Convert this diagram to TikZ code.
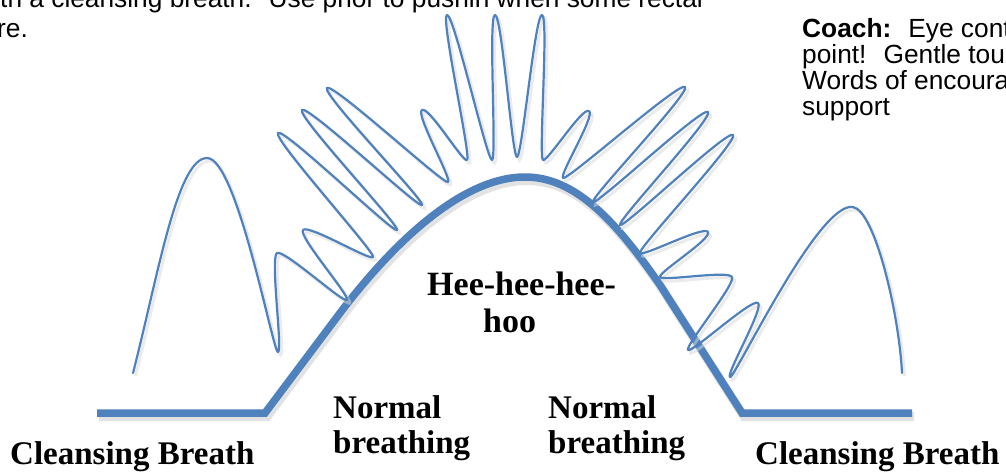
\documentclass[tikz,border=0pt]{standalone}
\usepackage{fontspec}
\setmainfont{Liberation Serif}
\newfontfamily\sansf{Liberation Sans}
\usetikzlibrary{calc}
\definecolor{bl}{RGB}{79,129,189}
% control points around a tip: prev, this, next, handle in, handle out
\newcommand\tipctl[5]{%
  \path let \p1=($(p#1)-(p#2)$), \p2=($(p#3)-(p#2)$),
    \n1={veclen(\x1,\y1)}, \n2={veclen(\x2,\y2)},
    \n3={(\x2)/(\n2)-(\x1)/(\n1)}, \n4={(\y2)/(\n2)-(\y1)/(\n1)},
    \n5={veclen(\n3,\n4)}, \n6={#4/(\n5)}, \n7={#5/(\n5)} in
    coordinate (p#2-a) at ($(p#2)-({\n6*\n3},{\n6*\n4})$)
    coordinate (p#2-b) at ($(p#2)+({\n7*\n3},{\n7*\n4})$);}
\begin{document}
\begin{tikzpicture}[x=1pt,y=-1pt,
  thickline/.style={draw=bl, line width=7.5pt, line join=miter,
    preaction={draw=black!25, line width=9pt, opacity=0.45,
      transform canvas={shift={(2pt,-3.5pt)}}}},
  wig/.style={draw=bl, line width=2.2pt, line cap=round, line join=round,
    preaction={draw=black!15, line width=3pt, opacity=0.5,
      transform canvas={shift={(2.5pt,-3pt)}}}},
  lab/.style={font=\fontsize{33}{36}\selectfont\bfseries, anchor=base west, inner sep=0pt},
  txt/.style={font=\sansf\fontsize{26.3}{28}\selectfont, anchor=base west, inner sep=0pt}]
\path[use as bounding box, fill=white] (0,0) rectangle (1006,472);

% thick curve
\coordinate (a1) at (97,413);
\coordinate (a2) at (265,413);
\coordinate (a3) at (340,313);
\coordinate (a3c1) at (390,247);
\coordinate (a3c2) at (460,177);
\coordinate (a4) at (525,177);
\coordinate (a4c1) at (575,177);
\coordinate (a4c2) at (615,220);
\coordinate (a5) at (660,285);
\coordinate (a6) at (742,413);
\coordinate (a7) at (912,413);
\draw[thickline] (a1) -- (a2) -- (a3) .. controls (a3c1) and (a3c2) .. (a4)
  .. controls (a4c1) and (a4c2) .. (a5) -- (a6) -- (a7);

% wiggle tips
\coordinate (p0) at (133,373);
\coordinate (p1) at (207,158);
\coordinate (p2) at (278,352);
\coordinate (p3) at (277,253);
\coordinate (p4) at (347,300);
\coordinate (p5) at (303,230);
\coordinate (p6) at (373,257);
\coordinate (p7) at (278,133);
\coordinate (p8) at (397,230);
\coordinate (p9) at (302,110);
\coordinate (p10) at (422,205);
\coordinate (p11) at (327,88);
\coordinate (p12) at (448,182);
\coordinate (p13) at (422,110);
\coordinate (p14) at (467,160);
\coordinate (p15) at (447,15);
\coordinate (p16) at (492,160);
\coordinate (p17) at (495,15);
\coordinate (p18) at (517,157);
\coordinate (p19) at (542,15);
\coordinate (p20) at (543,160);
\coordinate (p21) at (589,111);
\coordinate (p22) at (563,178);
\coordinate (p23) at (685,87);
\coordinate (p24) at (593,202);
\coordinate (p25) at (708,112);
\coordinate (p26) at (620,225);
\coordinate (p27) at (733,135);
\coordinate (p28) at (640,253);
\coordinate (p29) at (708,232);
\coordinate (p30) at (660,277);
\coordinate (p31) at (732,277);
\coordinate (p32) at (688,350);
\coordinate (p33) at (758,303);
\coordinate (p34) at (730,377);
\coordinate (p35) at (853,207);
\coordinate (p36) at (902,373);
\coordinate (p0-b) at (158,276);
\coordinate (p36-a) at (899,313);
\foreach \h/\i/\j/\a/\b in {0/1/2/30/30, 1/2/3/5/5, 2/3/4/8/8, 3/4/5/5/5,
  4/5/6/8/8, 5/6/7/5/5, 6/7/8/8/8, 7/8/9/5/5, 8/9/10/8/8, 9/10/11/5/5,
  10/11/12/8/8, 11/12/13/5/5, 12/13/14/8/8, 13/14/15/5/5, 14/15/16/7/7,
  15/16/17/5/5, 16/17/18/7/7, 17/18/19/5/5, 18/19/20/7/7, 19/20/21/5/5,
  20/21/22/8/8, 21/22/23/5/5, 22/23/24/8/8, 23/24/25/5/5, 24/25/26/8/8,
  25/26/27/5/5, 26/27/28/8/8, 27/28/29/5/5, 28/29/30/8/8, 29/30/31/5/5,
  30/31/32/8/8, 31/32/33/5/5, 32/33/34/8/8, 33/34/35/5/5, 34/35/36/35/22}
  {\tipctl{\h}{\i}{\j}{\a}{\b}}
\draw[wig] (p0) foreach \i/\j in {0/1,1/2,2/3,3/4,4/5,5/6,6/7,7/8,8/9,9/10,
  10/11,11/12,12/13,13/14,14/15,15/16,16/17,17/18,18/19,19/20,20/21,21/22,
  22/23,23/24,24/25,25/26,26/27,27/28,28/29,29/30,30/31,31/32,32/33,33/34,
  34/35,35/36} { .. controls (p\i-b) and (p\j-a) .. (p\j) };

% labels
\node[lab] (cb1) at (10,464) {Cleansing Breath};
\node[lab] (cb2) at (755,464) {Cleansing Breath};
\node[lab] (nb1a) at (333,418) {Normal};
\node[lab] (nb1b) at (333,453) {breathing};
\node[lab] (nb2a) at (548,418) {Normal};
\node[lab] (nb2b) at (548,453) {breathing};
\node[lab, font=\fontsize{34}{36}\selectfont\bfseries] (hee1) at (427,295) {Hee-hee-hee-};
\node[lab, font=\fontsize{34}{36}\selectfont\bfseries] (hee2) at (483,332) {hoo};

% top texts
\node[txt] (tl1) at (0,7) {th a cleansing breath.~ Use prior to pushin when some rectal};
\node[txt] (tl2) at (-3,37) {re.};
\node[txt] (c1) at (802,37) {\textbf{Coach:}~ Eye cont};
\node[txt] (c2) at (802,63) {point!~ Gentle tou};
\node[txt] (c3) at (802,89) {Words of encoura};
\node[txt] (c4) at (802,115) {support};
\end{tikzpicture}
\end{document}
